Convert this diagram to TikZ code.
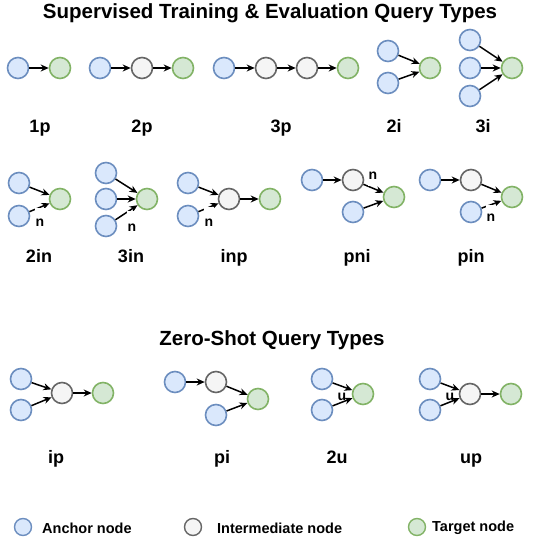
\documentclass[tikz,border=0pt]{standalone}
\usepackage{fontspec}
\setmainfont{Liberation Sans}
\usetikzlibrary{arrows.meta}
\definecolor{ancF}{HTML}{DAE8FC}\definecolor{ancD}{HTML}{6C8EBF}
\definecolor{intF}{HTML}{F5F5F5}\definecolor{intD}{HTML}{666666}
\definecolor{tgtF}{HTML}{D5E8D4}\definecolor{tgtD}{HTML}{82B366}
\begin{document}
\begin{tikzpicture}[x=1pt,y=-1pt,
  base/.style={circle,minimum size=21pt,inner sep=0pt,line width=1.6pt},
  anc/.style={base,draw=ancD,fill=ancF},
  inter/.style={base,draw=intD,fill=intF},
  tgt/.style={base,draw=tgtD,fill=tgtF},
  edge/.style={-{Stealth[length=8pt,width=7pt]},line width=1.5pt},
  lbl/.style={font=\bfseries\fontsize{18}{18}\selectfont,inner sep=0pt,anchor=base},
  ttl/.style={font=\bfseries\fontsize{20.5}{20.5}\selectfont,inner sep=0pt},
  elbl/.style={font=\bfseries\fontsize{14}{14}\selectfont,fill=white,inner xsep=0.5pt,inner ysep=1pt,anchor=base,text depth=0pt},
  leg/.style={font=\bfseries\fontsize{14.5}{14.5}\selectfont,inner sep=0pt,anchor=west},
  legc/.style={circle,minimum size=17pt,inner sep=0pt,line width=1.4pt}]
\useasboundingbox (0,0) rectangle (545,545);
\node[ttl] (t1) at (270,13) {Supervised Training \& Evaluation Query Types};
% 1p
\node[anc] (a1) at (18,68) {}; \node[tgt] (b1) at (60,68) {};
\draw[edge] (a1) -- (b1);
\node[lbl] (l1) at (40,133) {1p};
% 2p
\node[anc] (a2) at (100,68) {}; \node[inter] (m2) at (142,68) {}; \node[tgt] (b2) at (183,68) {};
\draw[edge] (a2) -- (m2); \draw[edge] (m2) -- (b2);
\node[lbl] (l2) at (142,133) {2p};
% 3p
\node[anc] (a3) at (224,68) {}; \node[inter] (m3) at (266,68) {}; \node[inter] (n3) at (307,68) {}; \node[tgt] (b3) at (348,68) {};
\draw[edge] (a3) -- (m3); \draw[edge] (m3) -- (n3); \draw[edge] (n3) -- (b3);
\node[lbl] (l3) at (281,133) {3p};
% 2i
\node[anc] (a4) at (388,51) {}; \node[anc] (c4) at (388,83) {}; \node[tgt] (b4) at (430,68) {};
\draw[edge] (a4) -- (b4); \draw[edge] (c4) -- (b4);
\node[lbl] (l4) at (394,133) {2i};
% 3i
\node[anc] (a5) at (470,40) {}; \node[anc] (c5) at (470,68) {}; \node[anc] (d5) at (470,96) {}; \node[tgt] (b5) at (512,68) {};
\draw[edge] (a5) -- (b5); \draw[edge] (c5) -- (b5); \draw[edge] (d5) -- (b5);
\node[lbl] (l5) at (483,133) {3i};
% 2in
\node[anc] (a6) at (19,183) {}; \node[anc] (c6) at (19,216) {}; \node[tgt] (b6) at (60,199) {};
\draw[edge] (a6) -- (b6); \draw[edge] (c6) -- (b6);
\node[elbl,text height=17.5pt] (n6) at (40,226) {n};
\node[lbl] (l6) at (39,262) {2in};
% 3in
\node[anc] (a7) at (106,173) {}; \node[anc] (c7) at (106,199) {}; \node[anc] (d7) at (106,226) {}; \node[tgt] (b7) at (147,199) {};
\draw[edge] (a7) -- (b7); \draw[edge] (c7) -- (b7); \draw[edge] (d7) -- (b7);
\node[elbl,text height=19pt] (n7) at (132,231) {n};
\node[lbl] (l7) at (131,262) {3in};
% inp
\node[anc] (a8) at (188,183) {}; \node[anc] (c8) at (188,216) {}; \node[inter] (m8) at (229,199) {}; \node[tgt] (b8) at (270,199) {};
\draw[edge] (a8) -- (m8); \draw[edge] (c8) -- (m8); \draw[edge] (m8) -- (b8);
\node[elbl,text height=18pt] (n8) at (209,226) {n};
\node[lbl] (l8) at (234,262) {inp};
% pni
\node[anc] (a9) at (312,180) {}; \node[inter] (m9) at (353,180) {}; \node[anc] (c9) at (353,212) {}; \node[tgt] (b9) at (394,197) {};
\draw[edge] (a9) -- (m9); \draw[edge] (m9) -- (b9); \draw[edge] (c9) -- (b9);
\node[elbl,text depth=5pt] (n9) at (373,180) {n};
\node[lbl] (l9) at (357,262) {pni};
% pin
\node[anc] (a10) at (430,180) {}; \node[inter] (m10) at (471,180) {}; \node[anc] (c10) at (471,212) {}; \node[tgt] (b10) at (512,197) {};
\draw[edge] (a10) -- (m10); \draw[edge] (m10) -- (b10); \draw[edge] (c10) -- (b10);
\node[elbl,text height=16pt] (n10) at (491,222) {n};
\node[lbl] (l10) at (471,262) {pin};
% Zero-shot
\node[ttl] (t2) at (272,340) {Zero-Shot Query Types};
% ip
\node[anc] (a11) at (21,379) {}; \node[anc] (c11) at (21,410) {}; \node[inter] (m11) at (62,393) {}; \node[tgt] (b11) at (103,393) {};
\draw[edge] (a11) -- (m11); \draw[edge] (c11) -- (m11); \draw[edge] (m11) -- (b11);
\node[lbl] (l11) at (56,463) {ip};
% pi
\node[anc] (a12) at (175,382) {}; \node[inter] (m12) at (216,382) {}; \node[anc] (c12) at (216,415) {}; \node[tgt] (b12) at (258,399) {};
\draw[edge] (a12) -- (m12); \draw[edge] (m12) -- (b12); \draw[edge] (c12) -- (b12);
\node[lbl] (l12) at (222,463) {pi};
% 2u
\node[anc] (a13) at (322,379) {}; \node[anc] (c13) at (322,410) {}; \node[tgt] (b13) at (363,394) {};
\draw[edge] (a13) -- (b13); \draw[edge] (c13) -- (b13);
\node[elbl,fill=none] (u13) at (342,400) {u};
\node[lbl] (l13) at (337,463) {2u};
% up
\node[anc] (a14) at (430,379) {}; \node[anc] (c14) at (430,410) {}; \node[inter] (m14) at (470,394) {}; \node[tgt] (b14) at (511,394) {};
\draw[edge] (a14) -- (m14); \draw[edge] (c14) -- (m14); \draw[edge] (m14) -- (b14);
\node[elbl,fill=none] (u14) at (450,400) {u};
\node[lbl] (l14) at (471,463) {up};
% legend
\node[legc,draw=ancD,fill=ancF] (la) at (23,527) {};
\node[leg] (lta) at (42,528) {Anchor node};
\node[legc,draw=intD,fill=intF] (li) at (193,527) {};
\node[leg] (lti) at (217,528) {Intermediate node};
\node[legc,draw=tgtD,fill=tgtF] (lt) at (417,527) {};
\node[leg] (ltt) at (432,528) {Target node};
\end{tikzpicture}
\end{document}
